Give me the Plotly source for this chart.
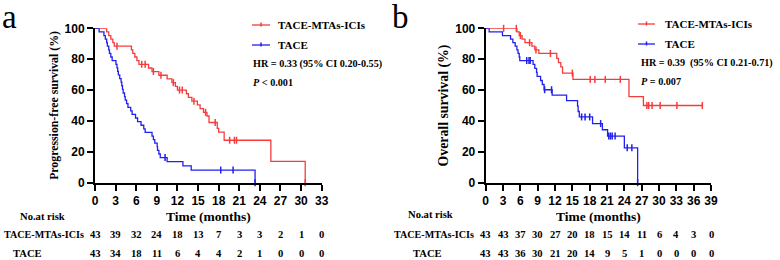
import plotly.graph_objects as go

# ---------------- data ----------------
groups = ["TACE-MTAs-ICIs", "TACE"]

# Panel a: progression-free survival (step points: time, survival %)
pfs_red_t = [0, 1.7, 2.0, 2.3, 2.6, 2.8, 5.3, 5.5, 5.8, 6.1, 6.4, 7.8, 8.3, 9.3, 10.5, 11.2, 11.7, 12.0,
             13.3, 13.6, 14.1, 14.9, 15.3, 15.8, 16.3, 16.6, 17.8, 18.0, 18.8, 25.6, 30.6]
pfs_red_s = [100, 97.7, 95.3, 93.0, 90.7, 88.4, 86.0, 83.7, 81.4, 79.1, 76.7, 74.3, 72.0, 69.6, 67.2, 64.8, 62.4, 60.0,
             57.6, 55.2, 52.8, 50.4, 48.0, 45.6, 43.2, 39.0, 35.2, 32.8, 27.5, 13.8, 0]
pfs_red_cens = [3.2, 6.8, 7.3, 8.5, 9.6, 11.4, 12.3, 12.7, 14.4, 16.1, 17.5, 19.6, 20.3, 20.6, 30.6]

pfs_blue_t = [0, 0.6, 1.3, 1.5, 1.7, 1.8, 2.0, 2.1, 2.3, 2.5, 3.05, 3.2, 3.3, 3.4, 3.6, 3.8, 3.9, 4.0, 4.1, 4.3,
              4.4, 4.6, 4.8, 5.2, 5.4, 5.9, 6.2, 6.7, 7.1, 7.3, 8.3, 8.5, 8.7, 9.05, 9.1, 9.3, 9.5, 10.5, 12.8,
              14.0, 23.3]
pfs_blue_s = [100, 97.7, 95.3, 93.0, 90.7, 88.4, 86.0, 83.7, 81.4, 79.1, 76.7, 74.4, 72.1, 69.8, 67.4, 65.1, 62.8,
              60.5, 58.1, 55.8, 53.5, 51.2, 48.8, 46.5, 44.2, 41.9, 39.5, 37.2, 34.9, 32.6, 30.2, 27.9, 25.6, 23.3,
              20.9, 18.6, 16.3, 13.6, 10.9, 8.2, 0]
pfs_blue_cens = [10.2, 18.3, 20.1, 23.3]

# Panel b: overall survival
os_red_t = [0, 5.4, 5.8, 6.3, 6.8, 8.0, 8.5, 9.2, 12.3, 12.6, 13.0, 13.3, 15.1, 24.8, 27.3, 37.5]
os_red_s = [100, 97.7, 95.3, 93.0, 90.7, 88.4, 86.0, 83.7, 80.5, 77.8, 75.0, 71.0, 66.9, 55.7, 50.0, 50.0]
os_red_cens = [3.1, 5.3, 6.0, 7.6, 8.7, 11.2, 15.0, 18.1, 18.9, 20.7, 23.3, 27.9, 28.2, 28.8, 30.2, 33.1, 37.5]

os_blue_t = [0, 0.6, 2.9, 4.3, 4.7, 5.1, 5.4, 5.6, 5.8, 5.9, 8.2, 8.5, 8.8, 8.9, 9.5, 9.8, 10.1, 11.5, 14.0,
             15.9, 16.0, 16.2, 18.5, 20.2, 21.1, 24.0, 26.3]
os_blue_s = [100, 97.7, 95.3, 93.0, 90.7, 88.4, 86.0, 83.7, 81.4, 79.1, 76.6, 74.0, 71.4, 68.8, 66.2, 63.6, 60.2,
             56.7, 53.1, 49.6, 46.1, 42.6, 38.3, 34.3, 30.2, 22.6, 0]
os_blue_cens = [7.1, 7.5, 7.7, 10.2, 11.4, 16.6, 17.2, 18.0, 19.9, 21.3, 21.6, 21.9, 22.4, 24.5, 25.3, 26.3]

# numbers at risk
pfs_ticks = [0, 3, 6, 9, 12, 15, 18, 21, 24, 27, 30, 33]
pfs_risk_red = [43, 39, 32, 24, 18, 13, 7, 3, 3, 2, 1, 0]
pfs_risk_blue = [43, 34, 18, 11, 6, 4, 4, 2, 1, 0, 0, 0]
os_ticks = [0, 3, 6, 9, 12, 15, 18, 21, 24, 27, 30, 33, 36, 39]
os_risk_red = [43, 43, 37, 30, 27, 20, 18, 15, 14, 11, 6, 4, 3, 0]
os_risk_blue = [43, 43, 36, 30, 21, 20, 14, 9, 5, 1, 0, 0, 0, 0]

y_ticks = [0, 20, 40, 60, 80, 100]

pfs_stats = ["HR = 0.33 (95% CI 0.20-0.55)", "<i>P</i> < 0.001"]
os_stats = ["HR = 0.39  (95% CI 0.21-0.71)", "<i>P</i> = 0.007"]

# ---------------- style ----------------
W, H = 780, 260
RED = "#f53c3c"
BLUE = "#2020f0"
SERIF = "Liberation Serif, Times New Roman, serif"
SANS = "Liberation Sans, Arial, sans-serif"


def px_x(p):
    return p / W


def px_y(p):
    return 1 - p / H


def value_at(ts, ss, t):
    v = ss[0]
    for ti, si in zip(ts, ss):
        if ti <= t:
            v = si
    return v


fig = go.Figure()

panels = [
    dict(xa="x", ya="y", t=[(pfs_red_t, pfs_red_s, pfs_red_cens, RED), (pfs_blue_t, pfs_blue_s, pfs_blue_cens, BLUE)]),
    dict(xa="x2", ya="y2", t=[(os_red_t, os_red_s, os_red_cens, RED), (os_blue_t, os_blue_s, os_blue_cens, BLUE)]),
]

for p in panels:
    for (ts, ss, cens, col), name in zip(p["t"], groups):
        fig.add_trace(go.Scatter(x=ts, y=ss, mode="lines", line=dict(color=col, width=1.3, shape="hv"),
                                 xaxis=p["xa"], yaxis=p["ya"], showlegend=False, name=name, cliponaxis=False))
        fig.add_trace(go.Scatter(x=cens, y=[value_at(ts, ss, c) for c in cens], mode="markers",
                                 marker=dict(symbol="line-ns", size=5, line=dict(color=col, width=1.5)),
                                 xaxis=p["xa"], yaxis=p["ya"], showlegend=False, name=name, cliponaxis=False))

axis_common = dict(showline=True, linecolor="black", linewidth=2, ticks="outside", ticklen=6, tickwidth=2,
                   tickcolor="black", showgrid=False, zeroline=False, mirror=False,
                   tickfont=dict(family=SANS, size=12, color="black", weight="bold"))

ydom = [px_y(182.7), px_y(28.3)]
fig.update_layout(
    width=W, height=H, margin=dict(l=0, r=0, t=0, b=0, autoexpand=False),
    paper_bgcolor="white", plot_bgcolor="white", showlegend=False,
    xaxis=dict(domain=[px_x(95), px_x(321.7)], range=[0, 33], tickvals=pfs_ticks, anchor="y",
               title=dict(text="Time (months)", font=dict(family=SERIF, size=13.5, color="black", weight="bold"),
                          standoff=4), **axis_common),
    yaxis=dict(domain=ydom, range=[0, 100], tickvals=y_ticks, anchor="x",
               title=dict(text="Progression-free survival (%)",
                          font=dict(family=SERIF, size=11.8, color="black", weight="bold"), standoff=3),
               **axis_common),
    xaxis2=dict(domain=[px_x(485.7), px_x(711)], range=[0, 39], tickvals=os_ticks, anchor="y2",
                title=dict(text="Time (months)", font=dict(family=SERIF, size=13.5, color="black", weight="bold"),
                           standoff=4), **axis_common),
    yaxis2=dict(domain=ydom, range=[0, 100], tickvals=y_ticks, anchor="x2",
                title=dict(text="Overall survival (%)",
                           font=dict(family=SERIF, size=13.8, color="black", weight="bold"), standoff=3),
                **axis_common),
)

ann = []
shapes = []
# panel letters
ann.append(dict(text="a", x=px_x(9.8), y=px_y(17), xref="paper", yref="paper", xanchor="center", yanchor="middle",
                showarrow=False, font=dict(family=SERIF, size=33, color="black")))
ann.append(dict(text="b", x=px_x(400.5), y=px_y(17), xref="paper", yref="paper", xanchor="center",
                yanchor="middle", showarrow=False, font=dict(family=SERIF, size=33, color="black")))

# legends + stats
legend_pos = [
    dict(x0=252, x1=270, tx=276, ys=[25, 45], sx=251, sy=[64, 82], stats=pfs_stats),
    dict(x0=638, x1=655, tx=663, ys=[24, 44], sx=639, sy=[63, 81], stats=os_stats),
]
for lp in legend_pos:
    for name, col, yy in zip(groups, [RED, BLUE], lp["ys"]):
        shapes.append(dict(type="line", xref="paper", yref="paper", x0=px_x(lp["x0"]), x1=px_x(lp["x1"]),
                           y0=px_y(yy), y1=px_y(yy), line=dict(color=col, width=1.3)))
        mid = (lp["x0"] + lp["x1"]) / 2
        shapes.append(dict(type="line", xref="paper", yref="paper", x0=px_x(mid), x1=px_x(mid),
                           y0=px_y(yy - 2.5), y1=px_y(yy + 1.5), line=dict(color=col, width=1.5)))
        ann.append(dict(text=name, x=px_x(lp["tx"]), y=px_y(yy), xref="paper", yref="paper", xanchor="left",
                        yanchor="middle", showarrow=False,
                        font=dict(family=SERIF, size=11, color="black", weight="bold")))
    for txt, yy in zip(lp["stats"], lp["sy"]):
        ann.append(dict(text=txt, x=px_x(lp["sx"]), y=px_y(yy), xref="paper", yref="paper", xanchor="left",
                        yanchor="middle", showarrow=False,
                        font=dict(family=SERIF, size=10.2, color="black", weight="bold")))

# risk tables
risk = [
    dict(xref="x", ticks=pfs_ticks, red=pfs_risk_red, blue=pfs_risk_blue, hx=42.5, hy=216.7,
         rx=44, bx=27, ry=234, by=253),
    dict(xref="x2", ticks=os_ticks, red=os_risk_red, blue=os_risk_blue, hx=430, hy=214,
         rx=434, bx=427, ry=234, by=253),
]
RF = dict(family=SERIF, size=10.6, color="black", weight="bold")
LF = dict(family=SERIF, size=10.1, color="black", weight="bold")
for r in risk:
    ann.append(dict(text="No.at risk", x=px_x(r["hx"]), y=px_y(r["hy"]), xref="paper", yref="paper",
                    xanchor="center", yanchor="middle", showarrow=False, font=RF))
    ann.append(dict(text=groups[0], x=px_x(r["rx"]), y=px_y(r["ry"]), xref="paper", yref="paper",
                    xanchor="center", yanchor="middle", showarrow=False, font=LF))
    ann.append(dict(text=groups[1], x=px_x(r["bx"]), y=px_y(r["by"]), xref="paper", yref="paper",
                    xanchor="center", yanchor="middle", showarrow=False, font=RF))
    for t, a, b in zip(r["ticks"], r["red"], r["blue"]):
        ann.append(dict(text=str(a), x=t, y=px_y(r["ry"]), xref=r["xref"], yref="paper", xanchor="center",
                        yanchor="middle", showarrow=False, font=RF))
        ann.append(dict(text=str(b), x=t, y=px_y(r["by"]), xref=r["xref"], yref="paper", xanchor="center",
                        yanchor="middle", showarrow=False, font=RF))

fig.update_layout(annotations=ann, shapes=shapes)
# place the figure at the page's top-left corner (no default body margin)
fig.write_html("out.html", config={"displayModeBar": False},
               post_script="document.body.style.margin='0';")
